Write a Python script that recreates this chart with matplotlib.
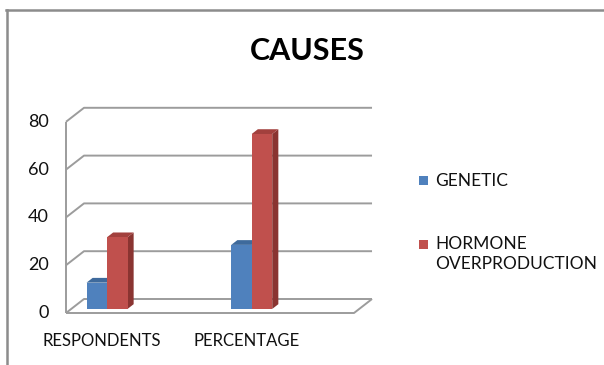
import matplotlib
matplotlib.use("Agg")
import matplotlib.pyplot as plt
from matplotlib.patches import Polygon, Rectangle
from matplotlib.lines import Line2D

plt.rcParams['font.family'] = ['Lato', 'DejaVu Sans']

title = "CAUSES"
categories = ["RESPONDENTS", "PERCENTAGE"]
series_names = ["GENETIC", "HORMONE\nOVERPRODUCTION"]
genetic = [11, 26.8]
hormone = [30, 73.2]
y_ticks = [0, 20, 40, 60, 80]

series_values = [genetic, hormone]
front_colors = ["#4F81BD", "#C0504D"]
top_colors = ["#3E6A9C", "#A2403D"]
side_colors = ["#36598A", "#8A3431"]

W, H = 604, 365
fig = plt.figure(figsize=(W / 100, H / 100), dpi=100)
ax = fig.add_axes([0, 0, 1, 1])

# oblique projection: pixel scale of categories / values and depth offset
PX_CAT, X0 = 144.7, 101.8
PX_VAL, Y0 = 2.39, 313.0
DX = 18.0 / PX_CAT
DY = 14.0 / PX_VAL
ax.set_xlim(-X0 / PX_CAT, (W - X0) / PX_CAT)
ax.set_ylim((Y0 - H) / PX_VAL, Y0 / PX_VAL)
ax.axis("off")


def proj(u, v, d):
    return (u + d * DX, v + d * DY)


def px_to_data(px, py):
    return ((px - X0) / PX_CAT, (Y0 - py) / PX_VAL)


uL, uR = -0.2474, 1.743
vmax = y_ticks[-1]
grid_kw = dict(color="#9c9c9c", lw=1.4, solid_capstyle="butt", zorder=1)

# back wall gridlines plus their traces on the side wall
for v in y_ticks:
    a, b = proj(uL, v, 0), proj(uL, v, 1)
    c = proj(uR, v, 1)
    ax.plot([a[0], b[0], c[0]], [a[1], b[1], c[1]], **grid_kw)

# front floor edge and vertical axis
p0, p1, p2 = proj(uL, 0, 0), proj(uR, 0, 0), proj(uR, 0, 1)
ax.plot([p0[0], p1[0], p2[0]], [p0[1], p1[1], p2[1]], **grid_kw)
pt = proj(uL, vmax, 0)
ax.plot([p0[0], pt[0]], [p0[1], pt[1]], **grid_kw)

# 3D columns
BW = 20.5 / PX_CAT
D0, D1 = 0.29, 0.63
for i in range(len(categories)):
    for j, vals in enumerate(series_values):
        val = vals[i]
        ul = i - BW + j * BW
        ur = ul + BW
        z = 3 + j
        side = [proj(ur, 0, D0), proj(ur, val, D0), proj(ur, val, D1), proj(ur, 0, D1)]
        ax.add_patch(Polygon(side, closed=True, fc=side_colors[j], ec="none", zorder=z))
        top = [proj(ul, val, D0), proj(ur, val, D0), proj(ur, val, D1), proj(ul, val, D1)]
        ax.add_patch(Polygon(top, closed=True, fc=top_colors[j], ec="none", zorder=z))
        fx, fy = proj(ul, 0, D0)
        ax.bar(fx, val, width=BW, bottom=fy, align="edge",
               color=front_colors[j], edgecolor="none", zorder=z + 0.5)

# value labels on the front plane
for v in y_ticks:
    x, _ = px_to_data(49, 0)
    ax.text(x, proj(0, v, 0)[1], str(v), ha="right", va="center",
            fontsize=13, color="#111111")

# category labels
for i, name in enumerate(categories):
    cx = proj(i, 0, 0)[0]
    _, cy = px_to_data(0, 341)
    ax.text(cx, cy, name, ha="center", va="center", fontsize=12, color="#111111")

fig.text(307.5 / W, 1 - 51 / H, title, ha="center", va="center",
         fontsize=22, fontweight="bold", color="black")

# legend
legend_y = [180, 244]
for j, name in enumerate(series_names):
    sy = legend_y[j]
    fig.add_artist(Rectangle((419 / W, 1 - (sy + 5) / H), 9 / W, 9 / H,
                             transform=fig.transFigure, fc=front_colors[j], ec="none"))
    fig.text(435 / W, 1 - (sy - 7.5) / H, name, ha="left", va="top",
             fontsize=12.5, color="#111111", linespacing=1.3)

# chart area border
border_kw = dict(color="#8c8c8c", lw=1.8, transform=fig.transFigure)
fig.add_artist(Line2D([6.5 / W, 6.5 / W], [0, 1 - 10 / H], **border_kw))
fig.add_artist(Line2D([5.6 / W, 1], [1 - 10 / H, 1 - 10 / H], **border_kw))

fig.savefig("out.png", dpi=100)
